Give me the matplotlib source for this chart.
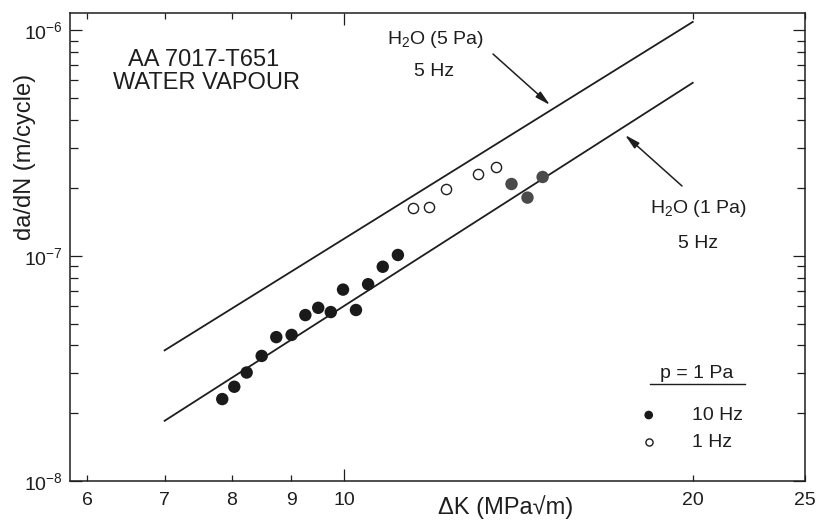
import matplotlib
matplotlib.use('Agg')
import matplotlib.pyplot as plt
from matplotlib.lines import Line2D
from matplotlib.ticker import FixedLocator, LogLocator, NullFormatter

plt.rcParams['font.family'] = ['Liberation Sans', 'DejaVu Sans']
plt.rcParams['mathtext.fontset'] = 'custom'
plt.rcParams['mathtext.rm'] = 'Liberation Sans'

INK = '#1e1e1e'

# fatigue crack growth data, AA 7017-T651, p = 1 Pa
dk_10hz = [7.85, 8.04, 8.24, 8.49, 8.74, 9.01, 9.26, 9.50, 9.74, 9.98,
           10.24, 10.49, 10.80, 11.13, 13.95, 14.40, 14.84]
da_10hz = [2.31e-8, 2.62e-8, 3.03e-8, 3.59e-8, 4.35e-8, 4.45e-8, 5.45e-8,
           5.87e-8, 5.62e-8, 7.07e-8, 5.74e-8, 7.47e-8, 8.93e-8, 1.007e-7,
           2.08e-7, 1.81e-7, 2.235e-7]
shade_10hz = ['#1a1a1a'] * 14 + ['#4a4a4a'] * 3

dk_1hz = [11.46, 11.84, 12.24, 13.06, 13.52]
da_1hz = [1.63e-7, 1.64e-7, 1.98e-7, 2.31e-7, 2.48e-7]

# reference trend lines at 5 Hz
line_dk = [7, 20]
da_5pa = [3.8e-8, 1.09e-6]
da_1pa = [1.85e-8, 5.85e-7]

x_minor = [6, 7, 8, 9, 20, 25]
x_minor_labels = ['6', '7', '8', '9', '20', '25']

W, H = 821, 528
fig = plt.figure(figsize=(W / 100, H / 100), dpi=100)
ax = fig.add_axes([70 / W, 1 - 481 / H, 735 / W, 468.5 / H])


def fpx(x, y):
    """figure pixel position measured from the top-left corner"""
    return (x, H - y)


ax.set_xscale('log')
ax.set_yscale('log')
ax.set_xlim(5.8, 25)
ax.set_ylim(1e-8, 1.2e-6)

ax.plot(line_dk, da_5pa, color=INK, lw=1.3)
ax.plot(line_dk, da_1pa, color=INK, lw=1.3)

ax.scatter(dk_10hz, da_10hz, s=80, c=shade_10hz, edgecolors='none',
           label='10 Hz', zorder=3)
ax.scatter(dk_1hz, da_1hz, s=54, facecolors='white', edgecolors=INK,
           linewidths=1.0, label='1 Hz', zorder=3)

# axes, ticks
for sp in ax.spines.values():
    sp.set_linewidth(1.1)
    sp.set_color(INK)

ax.xaxis.set_major_locator(FixedLocator([10]))
ax.set_xticklabels(['10'])
ax.xaxis.set_minor_locator(FixedLocator(x_minor))
ax.set_xticklabels(x_minor_labels, minor=True)

ax.yaxis.set_major_locator(FixedLocator([1e-8, 1e-7, 1e-6]))
ax.set_yticklabels([r'$\mathregular{10^{-8}}$', r'$\mathregular{10^{-7}}$',
                    r'$\mathregular{10^{-6}}$'])
ax.yaxis.set_minor_locator(LogLocator(base=10, subs=range(2, 10)))
ax.yaxis.set_minor_formatter(NullFormatter())

ax.tick_params(which='both', direction='in', top=True, right=True,
               color=INK, width=0.9, labelsize=14, labelcolor=INK)
ax.tick_params(axis='x', which='major', length=8.5, pad=8)
ax.tick_params(axis='x', which='minor', length=4.5, pad=8)
ax.tick_params(axis='y', which='major', length=8.5, pad=5)
ax.tick_params(axis='y', which='minor', length=5.5)

# axis titles
fig.text(25 / W, 1 - 157 / H, 'da/dN (m/cycle)', rotation=90, ha='center',
         va='center', fontsize=17, color=INK)
fig.text(506 / W, 1 - 507 / H, '\u0394K (MPa\u221am)', ha='center',
         va='center', fontsize=17, color=INK)

# material label
fig.text(204 / W, 1 - 60 / H, 'AA 7017-T651', ha='center', va='center',
         fontsize=17, color=INK)
fig.text(206 / W, 1 - 83 / H, 'WATER VAPOUR', ha='center', va='center',
         fontsize=17, color=INK)

# line labels and arrows
arrow = dict(arrowstyle='-|>,head_length=0.9,head_width=0.22', lw=1.1,
             color=INK, shrinkA=0, shrinkB=0)
fig.text(435 / W, 1 - 39 / H, r'H$\mathregular{_2}$O (5 Pa)', ha='center',
         va='center', fontsize=14, color=INK)
fig.text(434 / W, 1 - 72 / H, '5 Hz', ha='center', va='center',
         fontsize=14, color=INK)
ax.annotate('', xy=fpx(550, 105), xycoords='figure pixels',
            xytext=fpx(493, 54), textcoords='figure pixels', arrowprops=arrow)

fig.text(698 / W, 1 - 209 / H, r'H$\mathregular{_2}$O (1 Pa)', ha='center',
         va='center', fontsize=14, color=INK)
fig.text(698 / W, 1 - 244 / H, '5 Hz', ha='center', va='center',
         fontsize=14, color=INK)
ax.annotate('', xy=fpx(625, 135), xycoords='figure pixels',
            xytext=fpx(682, 186), textcoords='figure pixels', arrowprops=arrow)

# legend block
fig.text(697 / W, 1 - 373 / H, 'p = 1 Pa', ha='center', va='center',
         fontsize=14, color=INK)
fig.add_artist(Line2D([650 / W, 745 / W], [1 - 384 / H, 1 - 384 / H],
                      color=INK, lw=1.0, transform=fig.transFigure))
ax.legend(loc='center left', bbox_to_anchor=(639 / W, 1 - 429 / H),
          bbox_transform=fig.transFigure, frameon=False, fontsize=14,
          markerscale=0.7, handlelength=1.0, handletextpad=1.7,
          labelspacing=0.5, borderpad=0, borderaxespad=0, labelcolor=INK)

fig.savefig('out.png', dpi=100)
